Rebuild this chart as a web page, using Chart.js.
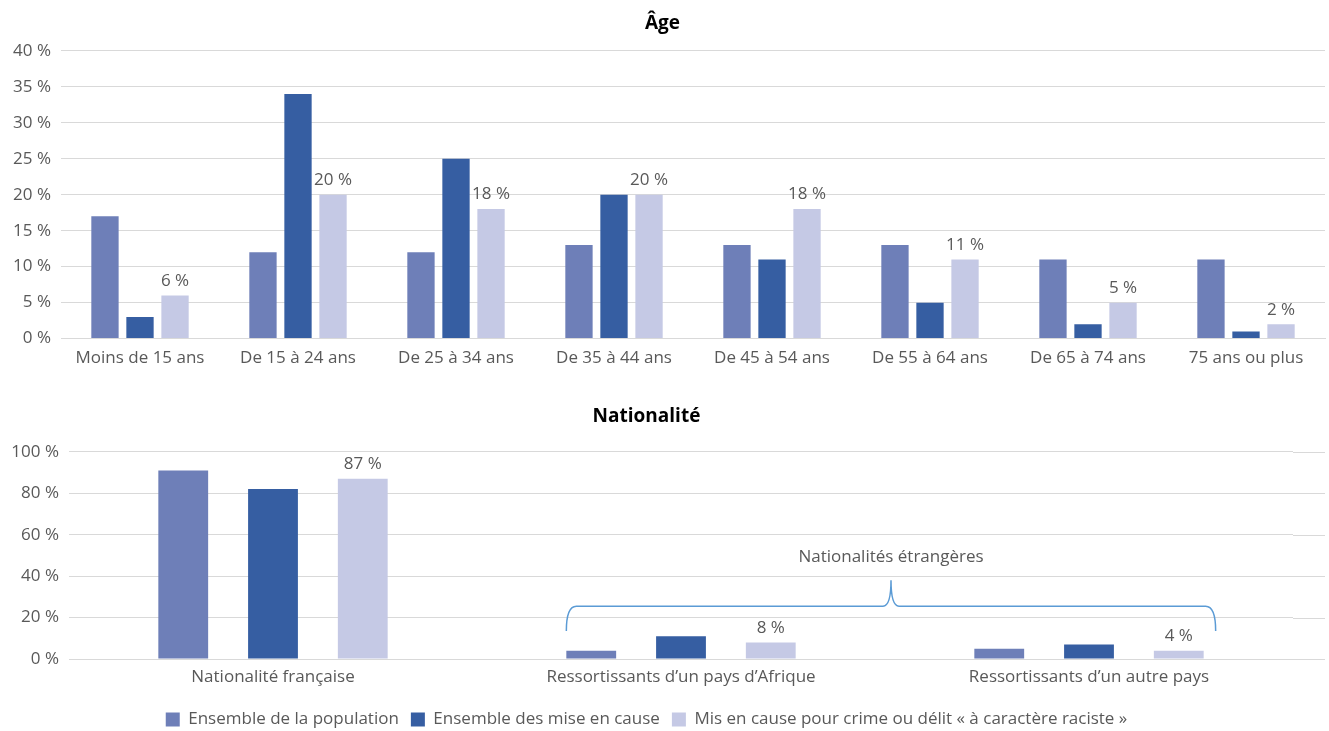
<!DOCTYPE html>
<html lang="fr">
<head>
<meta charset="utf-8">
<title>Âge et nationalité des mis en cause</title>
<script src="https://cdn.jsdelivr.net/npm/chart.js@4.4.1/dist/chart.umd.min.js"></script>
<style>
  html, body { margin: 0; padding: 0; background: #fff; overflow: hidden; }
  #wrap { width: 1329px; height: 731px; position: relative; overflow: hidden; }
  canvas { display: block; }
</style>
</head>
<body>
<div id="wrap">
  <canvas id="age" width="1329" height="385"></canvas>
  <canvas id="nat" width="1329" height="353"></canvas>
</div>
<script>
const seriesNames = [
  "Ensemble de la population",
  "Ensemble des mise en cause",
  "Mis en cause pour crime ou délit « à caractère raciste »",
];
const seriesColors = ["#6e7fb8", "#365ea2", "#c5c9e5"];

// Âge (%)
const ageLabels = [
  "Moins de 15 ans",
  "De 15 à 24 ans",
  "De 25 à 34 ans",
  "De 35 à 44 ans",
  "De 45 à 54 ans",
  "De 55 à 64 ans",
  "De 65 à 74 ans",
  "75 ans ou plus",
];
const agePopulation = [17, 12, 12, 13, 13, 13, 11, 11];
const ageMisEnCause = [3, 34, 25, 20, 11, 5, 2, 1];
const ageRaciste = [6, 20, 18, 20, 18, 11, 5, 2];
const ageTicks = [0, 5, 10, 15, 20, 25, 30, 35, 40];

// Nationalité (%)
const natLabels = [
  "Nationalité française",
  "Ressortissants d’un pays d’Afrique",
  "Ressortissants d’un autre pays",
];
const natPopulation = [91, 4, 5];
const natMisEnCause = [82, 11, 7];
const natRaciste = [87, 8, 4];
const natTicks = [0, 20, 40, 60, 80, 100];

const braceText = "Nationalités étrangères";

const FONT = "'Open Sans', 'Noto Sans', sans-serif";
const TEXT_GREY = "#595959";
const GRID_GREY = "#d9d9d9";
const FS = 17;

Chart.defaults.font.family = FONT;
Chart.defaults.color = TEXT_GREY;
Chart.defaults.animation = false;

function makeDatasets(values, cp, bp) {
  return values.map((data, i) => ({
    label: seriesNames[i],
    data: data,
    backgroundColor: seriesColors[i],
    categoryPercentage: cp,
    barPercentage: bp,
  }));
}

// value labels above the third series
const valueLabels = {
  id: "valueLabels",
  afterDatasetsDraw(chart) {
    const { ctx } = chart;
    const meta = chart.getDatasetMeta(2);
    const data = chart.data.datasets[2].data;
    ctx.save();
    ctx.font = FS + "px " + FONT;
    ctx.fillStyle = TEXT_GREY;
    ctx.textAlign = "center";
    ctx.textBaseline = "bottom";
    meta.data.forEach((bar, i) => {
      ctx.fillText(data[i] + " %", bar.x, bar.y - 6);
    });
    ctx.restore();
  },
};

// grid lines run a bit past the last category
const gridTail = {
  id: "gridTail",
  beforeDatasetsDraw(chart, args, opts) {
    const { ctx, chartArea } = chart;
    const y = chart.scales.y;
    ctx.save();
    ctx.strokeStyle = GRID_GREY;
    ctx.lineWidth = 1;
    y.ticks.forEach((t) => {
      const py = Math.round(y.getPixelForValue(t.value)) + 0.5;
      ctx.beginPath();
      ctx.moveTo(chartArea.right, py);
      ctx.lineTo(opts.to, py);
      ctx.stroke();
    });
    ctx.restore();
  },
};

// brace grouping the two foreign nationalities
const brace = {
  id: "brace",
  afterDatasetsDraw(chart) {
    const { ctx } = chart;
    const y = chart.scales.y;
    const a = chart.getDatasetMeta(0).data[1];
    const b = chart.getDatasetMeta(2).data[2];
    const x0 = a.x - a.width / 2;
    const x1 = b.x + b.width / 2 + 12;
    const xm = (x0 + x1) / 2;
    const yEnd = y.getPixelForValue(13.5);
    const yBar = y.getPixelForValue(25.5);
    const yTip = y.getPixelForValue(38);
    const r = 10;

    ctx.save();
    ctx.strokeStyle = "#5b9bd5";
    ctx.lineWidth = 1.5;
    ctx.beginPath();
    ctx.moveTo(x0, yEnd);
    ctx.quadraticCurveTo(x0, yBar, x0 + r, yBar);
    ctx.lineTo(xm - 8, yBar);
    ctx.quadraticCurveTo(xm, yBar, xm, yTip);
    ctx.quadraticCurveTo(xm, yBar, xm + 8, yBar);
    ctx.lineTo(x1 - r, yBar);
    ctx.quadraticCurveTo(x1, yBar, x1, yEnd);
    ctx.stroke();

    ctx.font = FS + "px " + FONT;
    ctx.fillStyle = TEXT_GREY;
    ctx.textAlign = "center";
    ctx.textBaseline = "middle";
    ctx.fillText(braceText, xm, y.getPixelForValue(49));
    ctx.restore();
  },
};

function yScale(ticks, width) {
  return {
    min: ticks[0],
    max: ticks[ticks.length - 1],
    afterBuildTicks: (scale) => {
      scale.ticks = ticks.map((v) => ({ value: v }));
    },
    afterFit: (scale) => {
      scale.width = width;
    },
    border: { display: false },
    grid: { color: GRID_GREY, drawTicks: false },
    ticks: {
      padding: 10,
      font: { size: FS },
      color: TEXT_GREY,
      callback: (v) => v + " %",
    },
  };
}

function xScale(padding, height) {
  return {
    grid: { display: false },
    border: { color: GRID_GREY },
    ticks: { padding: padding, font: { size: FS }, color: TEXT_GREY, maxRotation: 0 },
    afterFit: (scale) => {
      if (height) scale.height = height;
    },
  };
}

function title(text, top, bottom) {
  return {
    display: true,
    text: text,
    color: "#000",
    font: { size: 19, weight: "bold" },
    padding: { top: top, bottom: bottom },
  };
}

new Chart(document.getElementById("age"), {
  type: "bar",
  data: {
    labels: ageLabels,
    datasets: makeDatasets([agePopulation, ageMisEnCause, ageRaciste], 0.665, 0.78),
  },
  options: {
    responsive: false,
    layout: { padding: { left: 0, right: 4, top: 0, bottom: 16 } },
    scales: { x: xScale(1), y: yScale(ageTicks, 61) },
    plugins: {
      legend: { display: false },
      tooltip: { enabled: false },
      title: title("Âge", 12, 16),
    },
  },
  plugins: [valueLabels],
});

new Chart(document.getElementById("nat"), {
  type: "bar",
  data: {
    labels: natLabels,
    datasets: makeDatasets([natPopulation, natMisEnCause, natRaciste], 0.66, 0.555),
  },
  options: {
    responsive: false,
    layout: { padding: { left: 0, right: 36, top: 0, bottom: 0 } },
    scales: { x: xScale(0, 40), y: yScale(natTicks, 69) },
    plugins: {
      legend: {
        position: "bottom",
        labels: {
          boxWidth: 14,
          boxHeight: 14,
          padding: 12,
          font: { size: FS },
          color: TEXT_GREY,
        },
      },
      tooltip: { enabled: false },
      title: title("Nationalité", 20, 24),
      gridTail: { to: 1325 },
    },
  },
  plugins: [gridTail, valueLabels, brace],
});
</script>
</body>
</html>
